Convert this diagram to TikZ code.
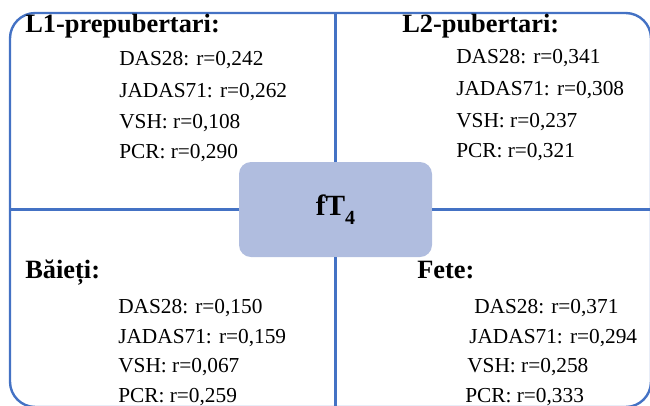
\documentclass[tikz,border=0pt]{standalone}
\usepackage{fontspec}
\setmainfont{Liberation Serif}
\usetikzlibrary{
    positioning,
    calc
}
\tikzset{
  frame/.style   = {draw=frameBlue, line width=1.8pt, rounded corners=19pt,
                    inner sep=0pt},
  core/.style    = {fill=boxBlue, rounded corners=9pt, inner sep=0pt,
                    minimum width=144.75pt, minimum height=71.25pt,
                    font=\fontsize{22}{26}\selectfont\bfseries},
  divider/.style = {frameBlue, line width=1.8pt},
  head/.style    = {anchor=base west, inner sep=0pt,
                    font=\fontsize{19.8}{24}\selectfont\bfseries},
  item/.style    = {anchor=base west, inner sep=0pt,
                    font=\fontsize{16}{19}\selectfont}
}
\definecolor{frameBlue}{RGB}{68,114,196}
\definecolor{boxBlue}{RGB}{176,189,223}

\begin{document}
\begin{tikzpicture}[x=0.75pt, y=-0.75pt]
  \useasboundingbox (0,0) rectangle (650,405);

  \node[frame, minimum width=480.75pt, minimum height=295.5pt] (frame) at (330.5,210) {};
  \node[core] (ft4) at (335.5,209.5) {fT\raisebox{-0.3em}{\fontsize{15}{17}\selectfont 4}};

  \draw[divider] (ft4.north) -- (ft4.north |- frame.north);
  \draw[divider] (ft4.south) -- (ft4.south |- frame.south);
  \draw[divider] (ft4.west) -- (ft4.west -| frame.west);
  \draw[divider] (ft4.east) -- (ft4.east -| frame.east);

  % upper left
  \node[head] (l1) at (25,32) {L1-prepubertari:};
  \node[item] (l1das) at (119,65) {DAS28: r=0,242};
  \node[item] (l1jad) at (119,97) {JADAS71: r=0,262};
  \node[item] (l1vsh) at (119,128) {VSH: r=0,108};
  \node[item] (l1pcr) at (119,158) {PCR: r=0,290};

  % upper right
  \node[head] (l2) at (402,32) {L2-pubertari:};
  \node[item] (l2das) at (456,63) {DAS28: r=0,341};
  \node[item] (l2jad) at (456,95) {JADAS71: r=0,308};
  \node[item] (l2vsh) at (456,127) {VSH: r=0,237};
  \node[item] (l2pcr) at (456,157) {PCR: r=0,321};

  % lower left
  \node[head] (boys) at (25,278) {Băieți:};
  \node[item] (bdas) at (118,313) {DAS28: r=0,150};
  \node[item] (bjad) at (118,343) {JADAS71: r=0,159};
  \node[item] (bvsh) at (118,372) {VSH: r=0,067};
  \node[item] (bpcr) at (118,402) {PCR: r=0,259};

  % lower right
  \node[head] (girls) at (417,278) {Fete:};
  \node[item] (gdas) at (474,313) {DAS28: r=0,371};
  \node[item] (gjad) at (469,343) {JADAS71: r=0,294};
  \node[item] (gvsh) at (467,372) {VSH: r=0,258};
  \node[item] (gpcr) at (465,402) {PCR: r=0,333};
\end{tikzpicture}
\end{document}
